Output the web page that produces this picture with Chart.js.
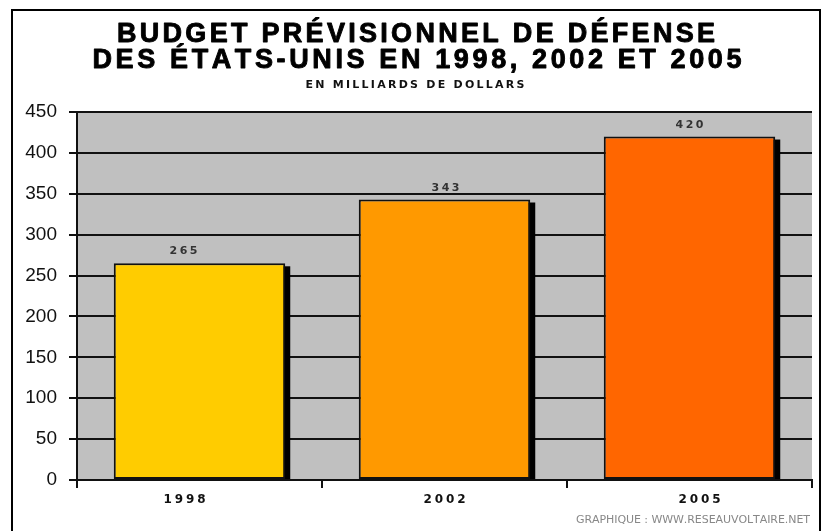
<!DOCTYPE html>
<html>
<head>
<meta charset="utf-8">
<script src="https://cdn.jsdelivr.net/npm/chart.js@4.4.1/dist/chart.umd.min.js"></script>
<style>
  html, body { margin: 0; padding: 0; background: #fff; }
</style>
</head>
<body>
<canvas id="budgetChart" width="825" height="531"></canvas>
<script>
// Chart data
const years = ['1998', '2002', '2005'];
const budget = [265, 343, 420];
const barColors = ['#FFCC00', '#FF9900', '#FF6600'];
const yMin = 0;
const yMax = 450;
const yStep = 50;
const titleLines = ['BUDGET PRÉVISIONNEL DE DÉFENSE', 'DES ÉTATS-UNIS EN 1998, 2002 ET 2005'];
const subtitle = 'EN MILLIARDS DE DOLLARS';
const footer = 'GRAPHIQUE : WWW.RESEAUVOLTAIRE.NET';

// small horizontal nudges of the labels, as in the original picture
const yearLabelShift = [-15, 0, 10];
const valueLabelShift = [-16, 1, 0];

// draw text char by char so it can be stretched to a given width
function spacedText(ctx, text, x, y, font, color, targetWidth, align, stroke) {
    ctx.save();
    ctx.font = font;
    ctx.fillStyle = color;
    ctx.strokeStyle = color;
    ctx.lineWidth = stroke || 0;
    ctx.lineJoin = 'round';
    ctx.textBaseline = 'alphabetic';
    ctx.textAlign = 'left';
    const chars = Array.from(text);
    const widths = chars.map(c => ctx.measureText(c).width);
    const natural = widths.reduce((a, b) => a + b, 0);
    const gap = chars.length > 1 ? (targetWidth - natural) / (chars.length - 1) : 0;
    let start = x;
    if (align === 'center') start = x - targetWidth / 2;
    if (align === 'right') start = x - targetWidth;
    let cx = start;
    chars.forEach((c, i) => {
        ctx.fillText(c, cx, y);
        if (stroke) ctx.strokeText(c, cx, y);
        cx += widths[i] + gap;
    });
    ctx.restore();
}

const decorPlugin = {
    id: 'decor',
    beforeDraw(chart) {
        const { ctx, chartArea: a } = chart;
        ctx.save();
        ctx.fillStyle = '#fff';
        ctx.fillRect(0, 0, chart.width, chart.height);
        ctx.fillStyle = '#c0c0c0';
        ctx.fillRect(a.left, a.top, a.right - a.left, a.bottom - a.top);
        ctx.restore();
    },
    beforeDatasetsDraw(chart) {
        // black drop shadow behind each bar
        const ctx = chart.ctx;
        ctx.save();
        ctx.fillStyle = '#000';
        chart.getDatasetMeta(0).data.forEach(bar => {
            const p = bar.getProps(['x', 'y', 'base', 'width'], true);
            ctx.fillRect(p.x - p.width / 2 + 5, p.y + 3, p.width, p.base - p.y - 3);
        });
        ctx.restore();
    },
    afterDraw(chart) {
        const ctx = chart.ctx;
        const xScale = chart.scales.x;
        const bottom = chart.chartArea.bottom;

        // value labels above bars
        chart.getDatasetMeta(0).data.forEach((bar, i) => {
            const p = bar.getProps(['x', 'y'], true);
            spacedText(ctx, String(budget[i]), p.x + valueLabelShift[i], p.y - 9, 'bold 11px "DejaVu Sans"', '#333', 28, 'center');
        });

        // category labels
        years.forEach((yr, i) => {
            spacedText(ctx, yr, xScale.getPixelForValue(i) + yearLabelShift[i], bottom + 23, 'bold 12px "DejaVu Sans"', '#111', 42, 'center');
        });

        // titles
        spacedText(ctx, titleLines[0], 416, 42, 'bold 27px "Liberation Sans"', '#000', 598, 'center', 0.9);
        spacedText(ctx, titleLines[1], 417, 68, 'bold 27px "Liberation Sans"', '#000', 649, 'center', 0.9);
        spacedText(ctx, subtitle, 415, 88, 'bold 11px "DejaVu Sans"', '#111', 219, 'center');
        spacedText(ctx, footer, 810, 523, '11px "DejaVu Sans"', '#888', 234, 'right');

        // outer frame
        ctx.save();
        ctx.strokeStyle = '#000';
        ctx.lineWidth = 2;
        ctx.strokeRect(12, 10, 808, 600);
        ctx.restore();
    }
};

const ctx = document.getElementById('budgetChart').getContext('2d');
const chart = new Chart(ctx, {
    type: 'bar',
    data: {
        labels: years,
        datasets: [{
            data: budget,
            backgroundColor: barColors,
            borderColor: '#111',
            borderWidth: 2,
            borderSkipped: false,
            barPercentage: 0.7,
            categoryPercentage: 1.0
        }]
    },
    options: {
        responsive: false,
        animation: false,
        devicePixelRatio: 1,
        layout: {
            padding: { left: 0, right: 13, top: 112, bottom: 21 }
        },
        plugins: {
            legend: { display: false },
            title: { display: false },
            tooltip: { enabled: false }
        },
        scales: {
            x: {
                afterFit: s => { s.height = 30; },
                grid: {
                    offset: true,
                    drawOnChartArea: false,
                    drawTicks: true,
                    tickLength: 8,
                    color: '#111',
                    lineWidth: 2
                },
                border: { display: true, color: '#111', width: 2 },
                ticks: { display: false }
            },
            y: {
                min: yMin,
                max: yMax,
                afterFit: s => { s.width = 77; },
                ticks: {
                    stepSize: yStep,
                    padding: 12,
                    color: '#111',
                    font: { family: '"Liberation Sans", Arial, sans-serif', size: 19 }
                },
                grid: {
                    color: '#111',
                    lineWidth: 2,
                    tickLength: 8,
                    drawTicks: true
                },
                border: { display: true, color: '#111', width: 2 }
            }
        }
    },
    plugins: [decorPlugin]
});
</script>
</body>
</html>
